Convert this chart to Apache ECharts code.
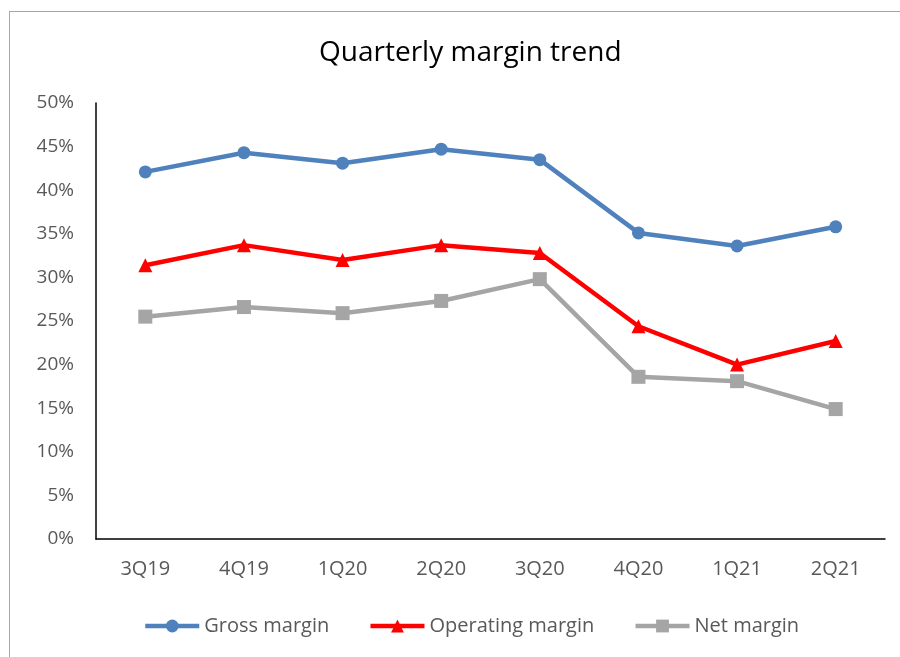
<!DOCTYPE html>
<html>
<head>
    <meta charset="utf-8">
    <title>Quarterly margin trend</title>
    <script src="https://cdn.jsdelivr.net/npm/echarts@6.0.0/dist/echarts.min.js"></script>
    <style>
        html, body { margin: 0; padding: 0; background: #fff; }
        #frame {
            position: absolute;
            left: 9px;
            top: 11px;
            width: 900px;
            height: 660px;
            border: 1px solid #a6a6a6;
        }
        #chart-container {
            position: absolute;
            left: 0;
            top: 0;
            width: 900px;
            height: 657px;
        }
    </style>
</head>
<body>
<div id="frame"></div>
<div id="chart-container"></div>

<script>
    // data
    var quarters = ['3Q19', '4Q19', '1Q20', '2Q20', '3Q20', '4Q20', '1Q21', '2Q21'];
    var grossMargin = [42.1, 44.3, 43.1, 44.7, 43.5, 35.1, 33.6, 35.8];
    var operatingMargin = [31.4, 33.7, 32.0, 33.7, 32.8, 24.4, 20.0, 22.7];
    var netMargin = [25.5, 26.6, 25.9, 27.3, 29.8, 18.6, 18.1, 14.9];

    var myChart = echarts.init(document.getElementById('chart-container'));

    var textColor = '#595959';
    var font = '"Open Sans", "Noto Sans", sans-serif';

    function makeSeries(name, data, color, symbol, size) {
        return {
            name: name,
            type: 'line',
            data: data,
            symbol: symbol,
            symbolSize: size,
            lineStyle: { color: color, width: 4.5 },
            itemStyle: { color: color },
            emphasis: { disabled: true }
        };
    }

    var option = {
        animation: false,
        title: {
            text: 'Quarterly margin trend',
            left: 314,
            top: 34,
            textStyle: {
                fontFamily: font,
                fontWeight: 'normal',
                fontSize: 28,
                color: '#000'
            }
        },
        legend: {
            bottom: 16,
            left: 138,
            itemWidth: 54,
            itemHeight: 16,
            itemGap: 39,
            lineStyle: { width: 4.5 },
            textStyle: { fontFamily: font, fontSize: 20, color: textColor },
            data: ['Gross margin', 'Operating margin', 'Net margin']
        },
        grid: {
            left: 96,
            right: 15,
            top: 103,
            bottom: 118
        },
        xAxis: {
            type: 'category',
            data: quarters,
            axisLine: { lineStyle: { color: '#000', width: 1.5 } },
            axisTick: { show: false },
            axisLabel: {
                color: textColor,
                fontFamily: font,
                fontSize: 20,
                margin: 20
            }
        },
        yAxis: {
            type: 'value',
            min: 0,
            max: 50,
            interval: 5,
            axisLine: { show: true, lineStyle: { color: '#000', width: 1.5 } },
            axisTick: { show: false },
            splitLine: { show: false },
            axisLabel: {
                color: textColor,
                fontFamily: font,
                fontSize: 19,
                margin: 22,
                formatter: '{value}%'
            }
        },
        series: [
            makeSeries('Gross margin', grossMargin, '#4f81bd', 'circle', 13),
            makeSeries('Operating margin', operatingMargin, '#ff0000', 'triangle', 14),
            makeSeries('Net margin', netMargin, '#a5a5a5', 'rect', 14)
        ]
    };

    myChart.setOption(option);
</script>
</body>
</html>
